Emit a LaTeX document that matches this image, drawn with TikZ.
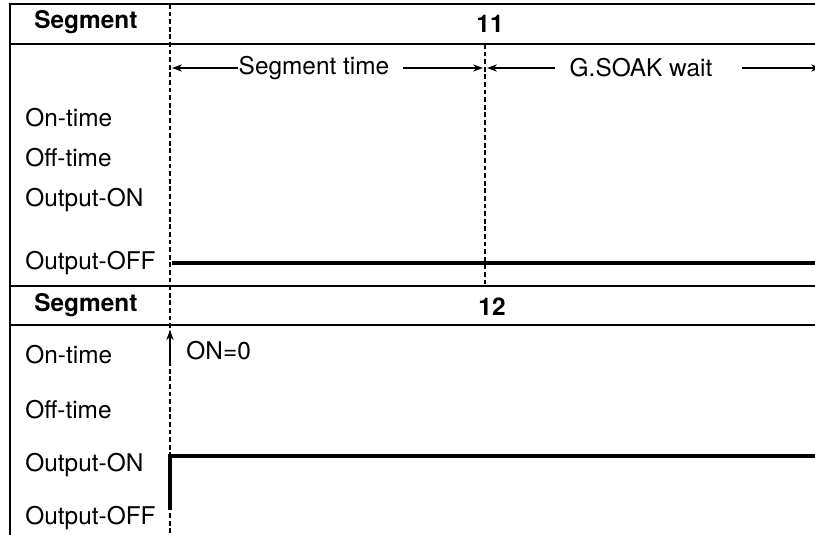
\documentclass[tikz,border=0pt]{standalone}
\usepackage{fontspec}
\setmainfont{TeX Gyre Heros}
\usetikzlibrary{arrows.meta, positioning}

\begin{document}
\begin{tikzpicture}[
  x=0.5pt, y=-0.5pt,
  rowlbl/.style  = {anchor=west, inner sep=0pt, font=\fontsize{12.2}{14}\selectfont},
  hdrlbl/.style  = {anchor=west, inner sep=0pt, font=\fontsize{12.2}{14}\selectfont\bfseries},
  segnum/.style  = {inner sep=0pt, font=\fontsize{12.2}{14}\selectfont\bfseries},
  spanlbl/.style = {inner sep=0pt, font=\fontsize{12.2}{14}\selectfont},
  frame/.style   = {line width=0.9pt},
  hdrline/.style = {line width=1.1pt},
  guide/.style   = {line width=0.6pt, dash pattern=on 2.4pt off 1.4pt},
  sig/.style     = {line width=1.8pt},
  arr/.style     = {-{Stealth[length=5pt, width=3.6pt]}, line width=0.6pt},
]
\useasboundingbox (0,0) rectangle (815,535);
\clip (0,0) rectangle (815,535);

%% ── Frame ─────────────────────────────────────────────
\coordinate (topL) at (10,4);
\coordinate (topR) at (815,4);
\coordinate (botL) at (10,535);
\draw[frame] (botL) -- (topL) -- (topR);
\draw[hdrline] (10,44)  -- (815,44);
\draw[hdrline] (10,286) -- (815,286);
\draw[hdrline] (10,325) -- (815,325);

%% ── Guide lines ───────────────────────────────────────
\coordinate (gA0) at (170,4);
\coordinate (gA1) at (170,535);
\coordinate (gB0) at (485,44);
\coordinate (gB1) at (485,286);
\draw[guide] (gA0) -- (gA1);
\draw[guide] (gB0) -- (gB1);

%% ── Upper block: segment 11 ──────────────────────────
\node[hdrlbl] (hdrA) at (34,22) {Segment};
\node[segnum] (numA) at (490,24) {11};
\node[rowlbl] (onA)   at (25,118) {On-time};
\node[rowlbl] (offA)  at (25,158) {Off-time};
\node[rowlbl] (outOnA)  at (25,200) {Output-ON};
\node[rowlbl] (outOffA) at (25,263) {Output-OFF};

\node[spanlbl] (segT) at (314,68) {Segment time};
\node[spanlbl] (soak) at (641,68) {G.SOAK wait};
\coordinate (segTr) at (403,68);
\coordinate (soakr) at (742,68);
\draw[arr] (segT.west) -- (172,68);
\draw[arr] (segTr) -- (483,68);
\draw[arr] (soak.west) ++(-14,0) -- (487,68);
\draw[arr] (soakr) -- (821,68);

\draw[sig] (172,263) -- (815,263);

%% ── Lower block: segment 12 ──────────────────────────
\node[hdrlbl] (hdrB) at (34,305) {Segment};
\node[segnum] (numB) at (492,307) {12};
\node[rowlbl] (onB)   at (25,355) {On-time};
\node[rowlbl] (offB)  at (25,410) {Off-time};
\node[rowlbl] (outOnB)  at (25,465) {Output-ON};
\node[rowlbl] (outOffB) at (25,518) {Output-OFF};

\coordinate (onTail) at (170,363);
\coordinate (onTip)  at (170,330);
\draw[arr] (onTail) -- (onTip);
\node[spanlbl, anchor=west] (onZero) at (186,351) {ON=0};

\draw[sig] (170,510) -- (170,456) -- (815,456);

\end{tikzpicture}
\end{document}
